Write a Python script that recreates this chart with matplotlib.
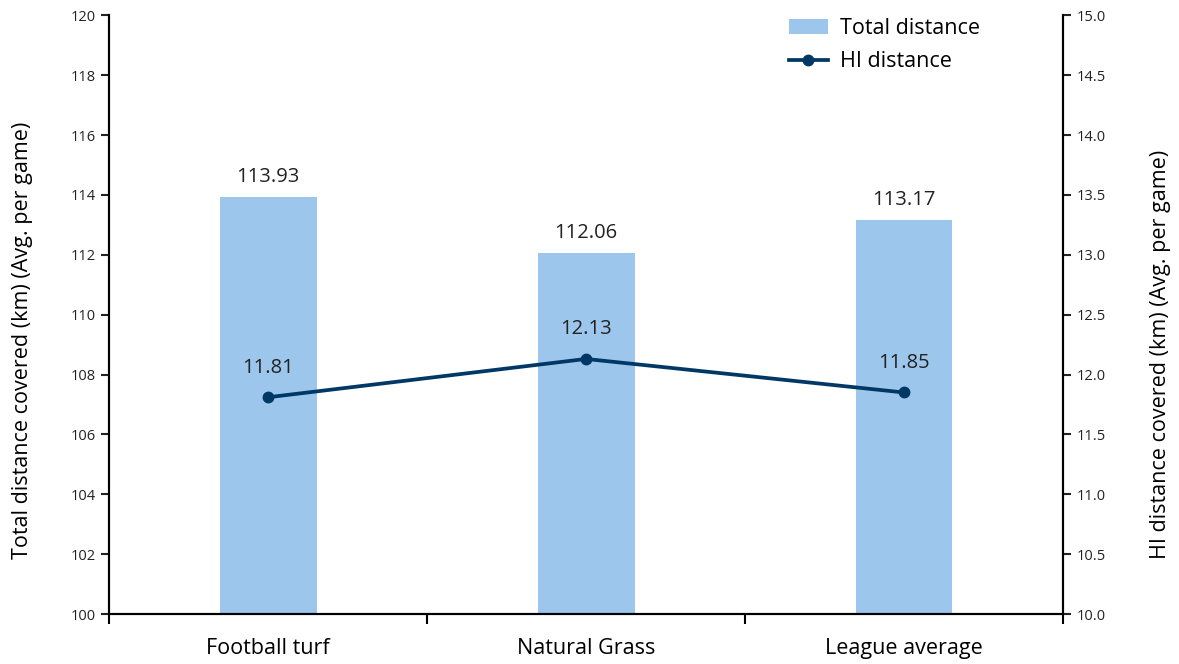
import matplotlib.pyplot as plt
import numpy as np

plt.rcParams['font.family'] = ['Open Sans', 'DejaVu Sans']

categories = ['Football turf', 'Natural Grass', 'League average']
total_distance = [113.93, 112.06, 113.17]
hi_distance = [11.81, 12.13, 11.85]

bar_color = '#9dc6ec'
line_color = '#003865'

fig = plt.figure(figsize=(11.79, 6.64), dpi=100)
ax = fig.add_axes([0.0925, 0.0753, 0.8091, 0.9017])
ax2 = ax.twinx()

x = np.arange(len(categories))
bars = ax.bar(x, total_distance, width=0.305, color=bar_color, label='Total distance', zorder=1)
line, = ax2.plot(x, hi_distance, color=line_color, lw=2.7, marker='o', ms=7.5, label='HI distance')

for xi, v in zip(x, total_distance):
    ax.annotate('{:.2f}'.format(v), (xi, v), xytext=(0, 7), textcoords='offset points',
                ha='center', va='bottom', fontsize=14.5, color='#222222')
for xi, v in zip(x, hi_distance):
    ax2.annotate('{:.2f}'.format(v), (xi, v), xytext=(0, 14), textcoords='offset points',
                 ha='center', va='bottom', fontsize=14.5, color='#222222')

ax.set_xlim(-0.5, 2.5)
ax.set_ylim(100, 120)
ax.set_yticks(np.arange(100, 121, 2))
ax2.set_ylim(10, 15)
ax2.set_yticks(np.arange(10, 15.01, 0.5))
ax2.set_yticklabels(['{:.1f}'.format(t) for t in np.arange(10, 15.01, 0.5)])

ax.set_xticks(x)
ax.set_xticklabels(categories, fontsize=15.5)
ax.set_xticks([-0.5, 0.5, 1.5, 2.5], minor=True)
ax.tick_params(axis='x', which='major', length=0, pad=17)
ax.tick_params(axis='x', which='minor', length=7, width=1.5, direction='out')
ax.tick_params(axis='y', length=6, width=1.5, labelsize=10.5, colors='#222222')
ax2.tick_params(axis='y', length=6, width=1.5, labelsize=10.5, colors='#222222')

for a in (ax, ax2):
    a.spines['top'].set_visible(False)
    for s in ('left', 'right', 'bottom'):
        a.spines[s].set_linewidth(1.5)

ax.set_ylabel('Total distance covered (km) (Avg. per game)', fontsize=15.5)
ax2.set_ylabel('HI distance covered (km) (Avg. per game)', fontsize=15.5, rotation=90)
ax.yaxis.set_label_coords(-0.08, 0.457)
ax2.yaxis.set_label_coords(1.091, 0.434)

ax.legend([bars, line], ['Total distance', 'HI distance'], loc='upper right',
          bbox_to_anchor=(0.933, 1.027), frameon=False, fontsize=15.5,
          handlelength=1.8, handletextpad=0.55, labelspacing=0.55)

fig.savefig('out.png', dpi=100)
